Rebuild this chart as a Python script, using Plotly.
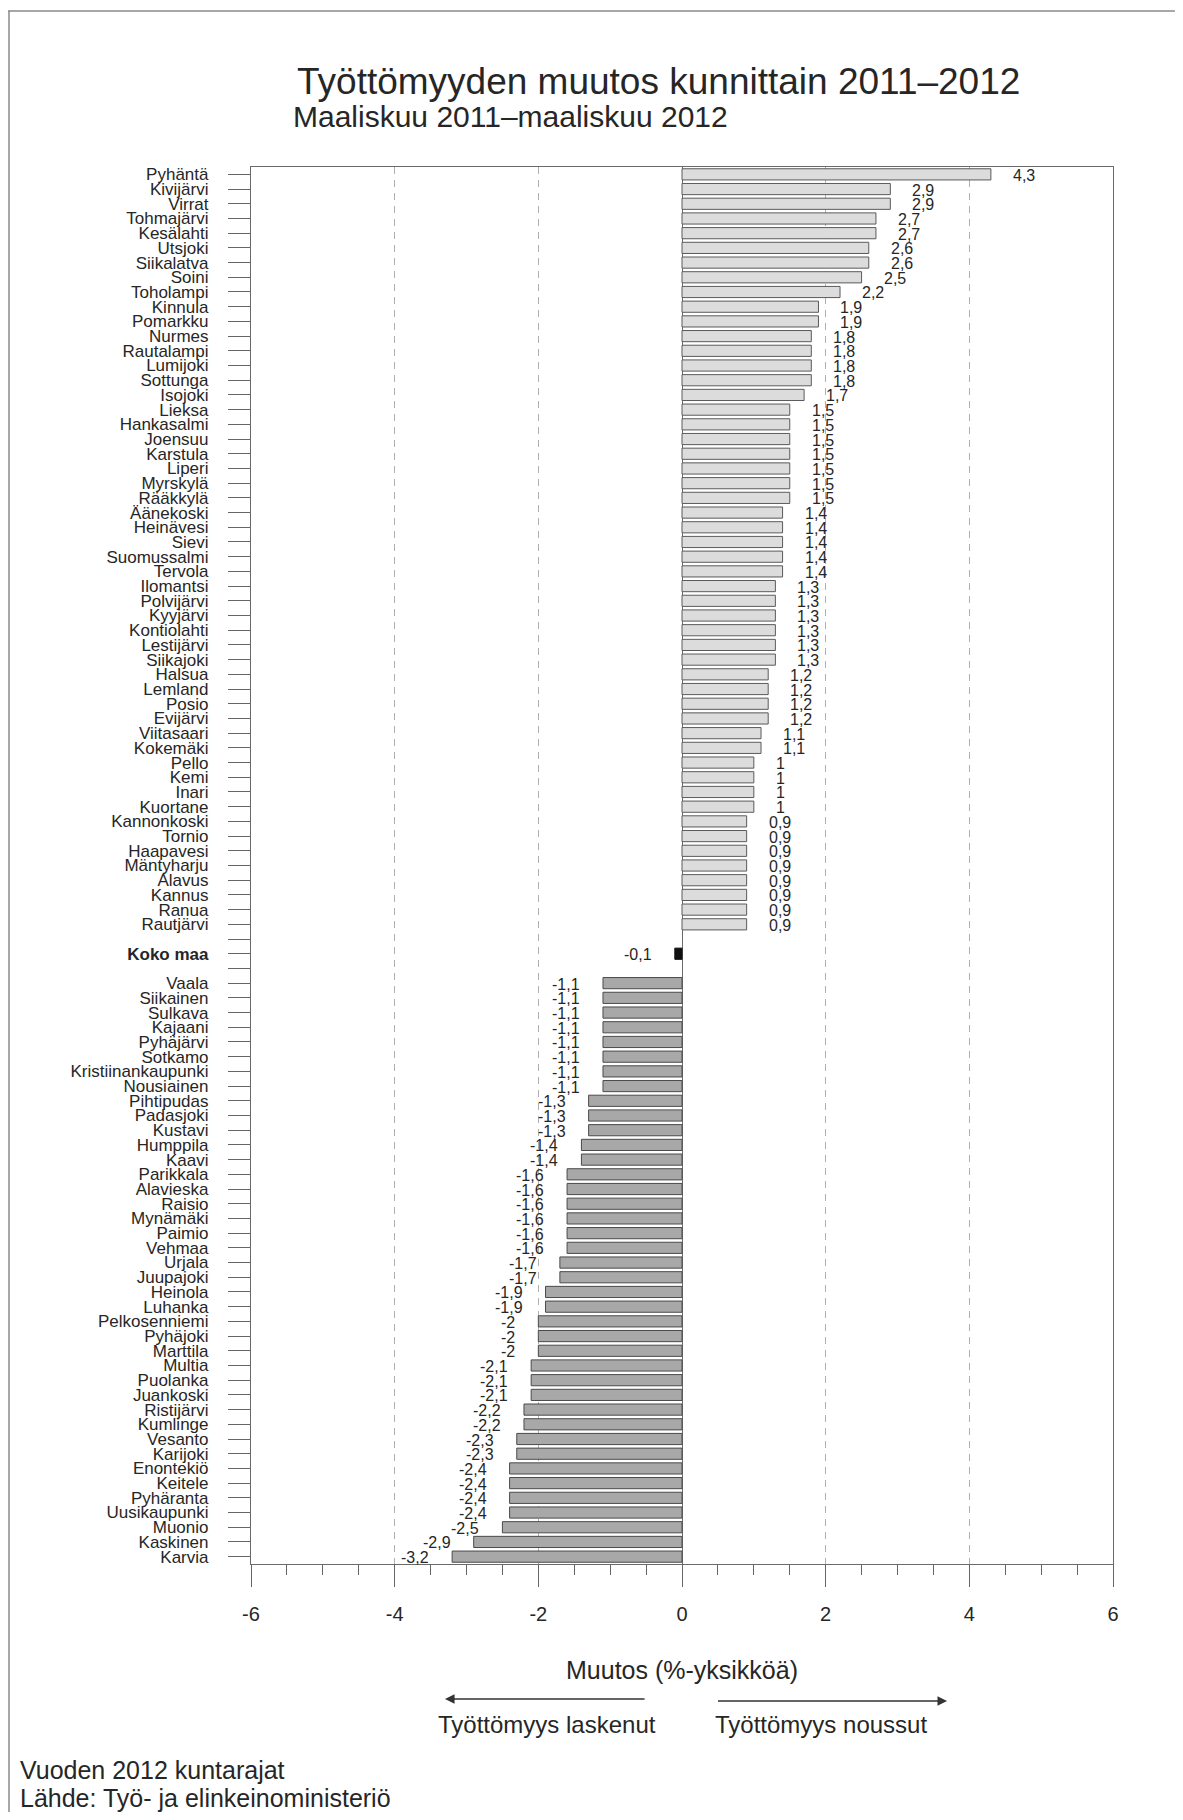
import plotly.graph_objects as go

# ---------------- data ----------------
pos_names = ["Pyhäntä", "Kivijärvi", "Virrat", "Tohmajärvi", "Kesälahti", "Utsjoki", "Siikalatva",
             "Soini", "Toholampi", "Kinnula", "Pomarkku", "Nurmes", "Rautalampi", "Lumijoki",
             "Sottunga", "Isojoki", "Lieksa", "Hankasalmi", "Joensuu", "Karstula", "Liperi",
             "Myrskylä", "Rääkkylä", "Äänekoski", "Heinävesi", "Sievi", "Suomussalmi", "Tervola",
             "Ilomantsi", "Polvijärvi", "Kyyjärvi", "Kontiolahti", "Lestijärvi", "Siikajoki",
             "Halsua", "Lemland", "Posio", "Evijärvi", "Viitasaari", "Kokemäki", "Pello", "Kemi",
             "Inari", "Kuortane", "Kannonkoski", "Tornio", "Haapavesi", "Mäntyharju", "Alavus",
             "Kannus", "Ranua", "Rautjärvi"]
pos_values = [4.3, 2.9, 2.9, 2.7, 2.7, 2.6, 2.6, 2.5, 2.2, 1.9, 1.9, 1.8, 1.8, 1.8, 1.8, 1.7,
              1.5, 1.5, 1.5, 1.5, 1.5, 1.5, 1.5, 1.4, 1.4, 1.4, 1.4, 1.4, 1.3, 1.3, 1.3, 1.3,
              1.3, 1.3, 1.2, 1.2, 1.2, 1.2, 1.1, 1.1, 1.0, 1.0, 1.0, 1.0, 0.9, 0.9, 0.9, 0.9,
              0.9, 0.9, 0.9, 0.9]

total_name = "Koko maa"
total_value = -0.1

neg_names = ["Vaala", "Siikainen", "Sulkava", "Kajaani", "Pyhäjärvi", "Sotkamo",
             "Kristiinankaupunki", "Nousiainen", "Pihtipudas", "Padasjoki", "Kustavi", "Humppila",
             "Kaavi", "Parikkala", "Alavieska", "Raisio", "Mynämäki", "Paimio", "Vehmaa", "Urjala",
             "Juupajoki", "Heinola", "Luhanka", "Pelkosenniemi", "Pyhäjoki", "Marttila", "Multia",
             "Puolanka", "Juankoski", "Ristijärvi", "Kumlinge", "Vesanto", "Karijoki", "Enontekiö",
             "Keitele", "Pyhäranta", "Uusikaupunki", "Muonio", "Kaskinen", "Karvia"]
neg_values = [-1.1, -1.1, -1.1, -1.1, -1.1, -1.1, -1.1, -1.1, -1.3, -1.3, -1.3, -1.4, -1.4,
              -1.6, -1.6, -1.6, -1.6, -1.6, -1.6, -1.7, -1.7, -1.9, -1.9, -2.0, -2.0, -2.0,
              -2.1, -2.1, -2.1, -2.2, -2.2, -2.3, -2.3, -2.4, -2.4, -2.4, -2.4, -2.5, -2.9, -3.2]

x_ticks = [-6, -4, -2, 0, 2, 4, 6]
x_ticktext = ["-6", "-4", "-2", "0", "2", "4", "6"]

title_text = "Työttömyyden muutos kunnittain 2011–2012"
subtitle_text = "Maaliskuu 2011–maaliskuu 2012"
axis_title = "Muutos (%-yksikköä)"
left_arrow_text = "Työttömyys laskenut"
right_arrow_text = "Työttömyys noussut"
footer_lines = ["Vuoden 2012 kuntarajat", "Lähde: Työ- ja elinkeinoministeriö"]

# ---------------- layout helpers ----------------
# the page body has a default 8px margin, so the figure starts at screen (8, 8)
OFF = 8
SW, SH = 1183, 1820                     # screen size
W, H = SW - 2 * OFF, SH - 2 * OFF       # figure size
PL, PR, PT, PB = 251, 1113, 167, 1564   # plot area in screen pixels


def px_x(px):
    return (px - PL) / (PR - PL)


def px_y(py):
    return (PB - py) / (PB - PT)


FONT = "Liberation Sans, Arial, sans-serif"
TXT = "#262626"

category_array = pos_names + [" "] + [total_name] + ["  "] + neg_names
tick_text = ["<b>%s</b>" % c if c == total_name else c for c in category_array]


def fmt(v):
    return ("%g" % v).replace(".", ",")


fig = go.Figure()
fig.add_trace(go.Bar(x=pos_values, y=pos_names, orientation="h", width=0.76,
                     marker=dict(color="#dcdcdc", line=dict(color="#5a5a5a", width=1)),
                     showlegend=False, hoverinfo="x+y"))
fig.add_trace(go.Bar(x=[total_value], y=[total_name], orientation="h", width=0.76,
                     marker=dict(color="#111111", line=dict(color="#111111", width=1)),
                     showlegend=False, hoverinfo="x+y"))
fig.add_trace(go.Bar(x=neg_values, y=neg_names, orientation="h", width=0.76,
                     marker=dict(color="#a8a8a8", line=dict(color="#4a4a4a", width=1)),
                     showlegend=False, hoverinfo="x+y"))

annotations = []
for names, vals in ((pos_names, pos_values), ([total_name], [total_value]), (neg_names, neg_values)):
    for n, v in zip(names, vals):
        annotations.append(dict(x=v, y=n, xref="x", yref="y", text=fmt(v), showarrow=False,
                                xanchor="left" if v > 0 else "right",
                                xshift=20 if v > 0 else -21, yshift=-1,
                                font=dict(family=FONT, size=16, color=TXT)))

# titles
annotations.append(dict(x=px_x(295), y=px_y(82), xref="paper", yref="paper", text=title_text,
                        showarrow=False, xanchor="left", yanchor="middle",
                        font=dict(family=FONT, size=37, color=TXT)))
annotations.append(dict(x=px_x(291), y=px_y(117), xref="paper", yref="paper", text=subtitle_text,
                        showarrow=False, xanchor="left", yanchor="middle",
                        font=dict(family=FONT, size=30, color=TXT)))
# axis title
annotations.append(dict(x=0, y=px_y(1670), xref="x", yref="paper", text=axis_title,
                        showarrow=False, xanchor="center", yanchor="middle",
                        font=dict(family=FONT, size=25, color=TXT)))
# arrows
annotations.append(dict(x=-3.3, y=px_y(1699), xref="x", yref="paper", ax=-0.5, ay=0,
                        axref="x", ayref="pixel", text="", showarrow=True, arrowhead=2,
                        arrowsize=1.2, arrowwidth=1.6, arrowcolor="#333333"))
annotations.append(dict(x=3.69, y=px_y(1701), xref="x", yref="paper", ax=0.48, ay=0,
                        axref="x", ayref="pixel", text="", showarrow=True, arrowhead=2,
                        arrowsize=1.2, arrowwidth=1.6, arrowcolor="#333333"))
annotations.append(dict(x=px_x(547), y=px_y(1724), xref="paper", yref="paper", text=left_arrow_text,
                        showarrow=False, xanchor="center", yanchor="middle",
                        font=dict(family=FONT, size=24, color=TXT)))
annotations.append(dict(x=px_x(821), y=px_y(1724), xref="paper", yref="paper", text=right_arrow_text,
                        showarrow=False, xanchor="center", yanchor="middle",
                        font=dict(family=FONT, size=24, color=TXT)))
# footer
for i, line in enumerate(footer_lines):
    annotations.append(dict(x=px_x(18), y=px_y(1770 + 28 * i), xref="paper", yref="paper",
                            text=line, showarrow=False, xanchor="left", yanchor="middle",
                            font=dict(family=FONT, size=25, color=TXT)))

shapes = [
    dict(type="line", xref="paper", yref="paper", x0=px_x(OFF), x1=px_x(SW), y0=px_y(11), y1=px_y(11),
         line=dict(color="#8a8a8a", width=1.5)),
    dict(type="line", xref="paper", yref="paper", x0=px_x(OFF + 1), x1=px_x(OFF + 1), y0=px_y(11),
         y1=px_y(SH), line=dict(color="#8a8a8a", width=1.5)),
]

fig.update_layout(
    width=W, height=H,
    margin=dict(l=PL - OFF, r=W - (PR - OFF), t=PT - OFF, b=H - (PB - OFF), pad=0),
    paper_bgcolor="white", plot_bgcolor="white",
    barmode="overlay",
    font=dict(family=FONT, color=TXT),
    annotations=annotations,
    shapes=shapes,
    xaxis=dict(range=[-6, 6], tickmode="array", tickvals=x_ticks, ticktext=x_ticktext,
               ticks="outside", ticklen=22, tickcolor="#666", tickwidth=1,
               tickfont=dict(family=FONT, size=20, color=TXT), ticklabelstandoff=10,
               minor=dict(tickmode="linear", tick0=0, dtick=0.5, ticks="outside", ticklen=10,
                          tickcolor="#666", showgrid=False),
               showgrid=True, gridcolor="#b0b0b0", gridwidth=1, griddash="7px,6px",
               zeroline=True, zerolinecolor="#6a6a6a", zerolinewidth=1.2,
               showline=True, linecolor="#6a6a6a", linewidth=1.2, mirror=True, fixedrange=True,
               automargin=False),
    yaxis=dict(type="category", categoryorder="array", categoryarray=category_array,
               range=[len(category_array) - 0.5, -0.5], tickmode="array", tickvals=category_array,
               ticktext=tick_text, ticks="outside", ticklen=22, tickcolor="#666", tickwidth=1,
               tickfont=dict(family=FONT, size=17, color=TXT), ticklabelstandoff=16,
               showgrid=False, zeroline=False,
               showline=True, linecolor="#6a6a6a", linewidth=1.2, mirror=True, fixedrange=True,
               automargin=False),
)

fig.write_html("out.html")
